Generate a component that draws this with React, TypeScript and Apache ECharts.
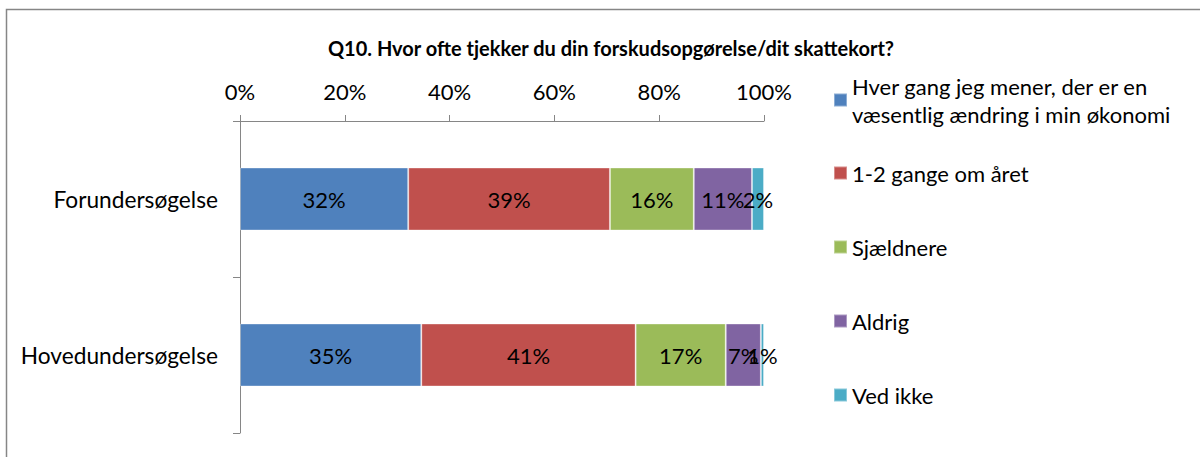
import React, { useEffect, useRef } from "react";
import * as echarts from "echarts";

const titleText = "Q10. Hvor ofte tjekker du din forskudsopgørelse/dit skattekort?";
const categories = ["Forundersøgelse", "Hovedundersøgelse"];
const seriesNames = [
  "Hver gang jeg mener, der er en\nvæsentlig ændring i min økonomi",
  "1-2 gange om året",
  "Sjældnere",
  "Aldrig",
  "Ved ikke",
];
const hverGang = [32.1, 34.6];
const gangeOmAaret = [38.5, 40.9];
const sjaeldnere = [16.0, 17.2];
const aldrig = [11.1, 6.7];
const vedIkke = [2.3, 0.6];
const seriesValues = [hverGang, gangeOmAaret, sjaeldnere, aldrig, vedIkke];
const colors = ["#4F81BD", "#C0504D", "#9BBB59", "#8064A2", "#4BACC6"];

const FONT = "Lato, 'Open Sans', sans-serif";
const FS = 22;
const GREY = "#868686";

export default function App() {
  const ref = useRef<HTMLDivElement>(null);
  useEffect(() => {
    if (!ref.current) return;
    const chart = echarts.init(ref.current, null, { renderer: "svg" });
    chart.setOption({
      animation: false,
      backgroundColor: "#ffffff",
      textStyle: { fontFamily: FONT },
      title: {
        text: titleText,
        left: 606,
        top: 33,
        textAlign: "center",
        textStyle: { fontFamily: FONT, fontSize: 20, fontWeight: "bold", color: "#000" },
      },
      graphic: [
        {
          type: "rect",
          shape: { x: 6.5, y: 9.5, width: 1400, height: 600 },
          style: { fill: "none", stroke: GREY, lineWidth: 1.5 },
          silent: true,
        },
      ],
      legend: [
        {
          data: [seriesNames[0]],
          left: 833,
          top: 58,
          padding: 0,
          itemWidth: 13,
          itemHeight: 13,
          icon: "rect",
          textStyle: {
            fontFamily: FONT,
            fontSize: FS,
            color: "#000",
            lineHeight: 28,
            padding: [28, 0, 0, 0],
          },
        },
        {
          data: seriesNames.slice(1),
          orient: "vertical",
          left: 833,
          top: 159,
          padding: 0,
          itemGap: 46,
          itemWidth: 13,
          itemHeight: 13,
          icon: "rect",
          textStyle: { fontFamily: FONT, fontSize: FS, color: "#000", lineHeight: 28 },
        },
      ],
      grid: { left: 240, right: 436, top: 121, bottom: 24, containLabel: false },
      xAxis: {
        type: "value",
        position: "top",
        min: 0,
        max: 100,
        interval: 20,
        axisLine: { show: true, lineStyle: { color: GREY, width: 1 } },
        axisTick: { show: true, length: 6, lineStyle: { color: GREY } },
        splitLine: { show: false },
        axisLabel: {
          formatter: "{value}%",
          margin: 19,
          fontFamily: FONT,
          fontSize: FS,
          color: "#000",
        },
      },
      yAxis: {
        type: "category",
        inverse: true,
        data: categories,
        axisLine: { show: true, lineStyle: { color: GREY, width: 1 } },
        axisTick: { show: true, length: 7, lineStyle: { color: GREY } },
        axisLabel: { margin: 22, fontFamily: FONT, fontSize: 22.7, color: "#000" },
      },
      series: seriesNames.map((name, i) => ({
        name,
        type: "bar",
        stack: "total",
        barWidth: 63,
        data: seriesValues[i],
        itemStyle: { color: colors[i], borderColor: "rgba(255,255,255,0.35)", borderWidth: 1 },
        label: {
          show: true,
          position: "inside",
          formatter: (p: any) => Math.round(p.value) + "%",
          fontFamily: FONT,
          fontSize: FS,
          color: "#000",
        },
      })),
    });
    return () => chart.dispose();
  }, []);
  return (
    <div
      ref={ref}
      style={{ position: "fixed", left: 0, top: 0, width: 1200, height: 457 }}
    />
  );
}
